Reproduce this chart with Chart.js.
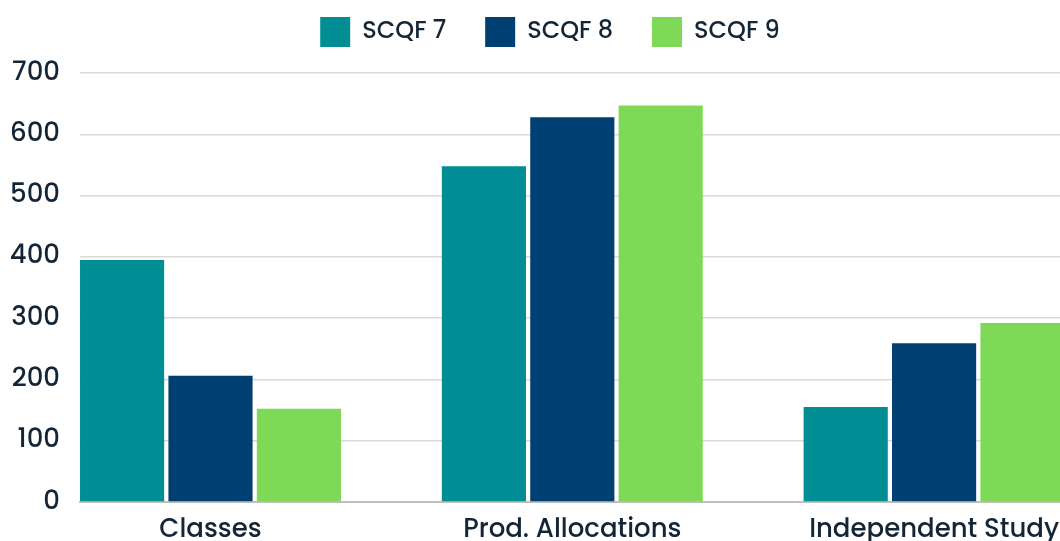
<!DOCTYPE html>
<html>
<head>
<meta charset="utf-8">
<script src="https://cdn.jsdelivr.net/npm/chart.js@4/dist/chart.umd.min.js"></script>
<style>
html,body{margin:0;padding:0;background:#fff;overflow:hidden;}
#wrap{width:1060px;height:541px;}
</style>
</head>
<body>
<div id="wrap"><canvas id="c" width="1060" height="541"></canvas></div>
<script>
// ---- data ----
const categories = ['Classes', 'Prod. Allocations', 'Independent Study'];
const seriesNames = ['SCQF 7', 'SCQF 8', 'SCQF 9'];
const scqf7 = [395, 548, 155];
const scqf8 = [206, 628, 259];
const scqf9 = [152, 647, 292];
const yTicks = [0, 100, 200, 300, 400, 500, 600, 700];

// ---- styles ----
const colors = ['#008e94', '#003f72', '#7ed957'];
const textColor = '#142536';
const fontFamily = 'Poppins, Inter, "Open Sans", sans-serif';

const seriesValues = [scqf7, scqf8, scqf9];
const datasets = seriesNames.map((name, s) => ({
  label: name,
  data: categories.map((c, i) => ({x: i, y: seriesValues[s][i]})),
  backgroundColor: colors[s],
  borderWidth: 0,
  categoryPercentage: 0.733,
  barPercentage: 0.952
}));

const legendShift = {
  id: 'legendShift',
  afterLayout(chart) {
    if (chart.legend) { chart.legend.left += 20; chart.legend.right += 20; }
  }
};

new Chart(document.getElementById('c'), {
  type: 'bar',
  data: { datasets },
  plugins: [legendShift],
  options: {
    responsive: false,
    animation: false,
    devicePixelRatio: 1,
    layout: { padding: { top: -22, left: 0, right: 0, bottom: 0 } },
    plugins: {
      legend: {
        position: 'top',
        align: 'center',
        labels: {
          boxWidth: 30,
          boxHeight: 30,
          padding: 39,
          color: textColor,
          font: { family: fontFamily, size: 24, weight: '500' }
        }
      },
      title: {
        display: true,
        text: ' ',
        weight: 500,
        position: 'top',
        font: { size: 10, lineHeight: 1.2 },
        padding: { top: 0, bottom: 4 }
      },
      tooltip: { enabled: false }
    },
    scales: {
      x: {
        type: 'linear',
        offset: false,
        min: -0.3607,
        max: 2.348,
        grid: { display: false, drawTicks: false, offset: false },
        border: { display: true, color: '#bfbfbf', width: 2 },
        afterBuildTicks(scale) { scale.ticks = categories.map((c, i) => ({ value: i })); },
        ticks: {
          autoSkip: false,
          maxRotation: 0,
          padding: 13,
          color: textColor,
          font: { family: fontFamily, size: 26, weight: '500' },
          callback: (v) => categories[v]
        },
        afterFit(scale) { scale.height = 39; scale.paddingLeft = 0; scale.paddingRight = 0; }
      },
      y: {
        min: 0,
        max: 700,
        afterBuildTicks(scale) { scale.ticks = yTicks.map(v => ({ value: v })); },
        grid: { color: '#d9d9d9', lineWidth: 1.5, drawTicks: false },
        border: { display: false },
        ticks: {
          padding: 20,
          color: textColor,
          font: { family: fontFamily, size: 26, weight: '500' }
        },
        afterFit(scale) { scale.width = 80; scale.paddingTop = 0; scale.paddingBottom = 0; }
      }
    }
  }
});
</script>
</body>
</html>
